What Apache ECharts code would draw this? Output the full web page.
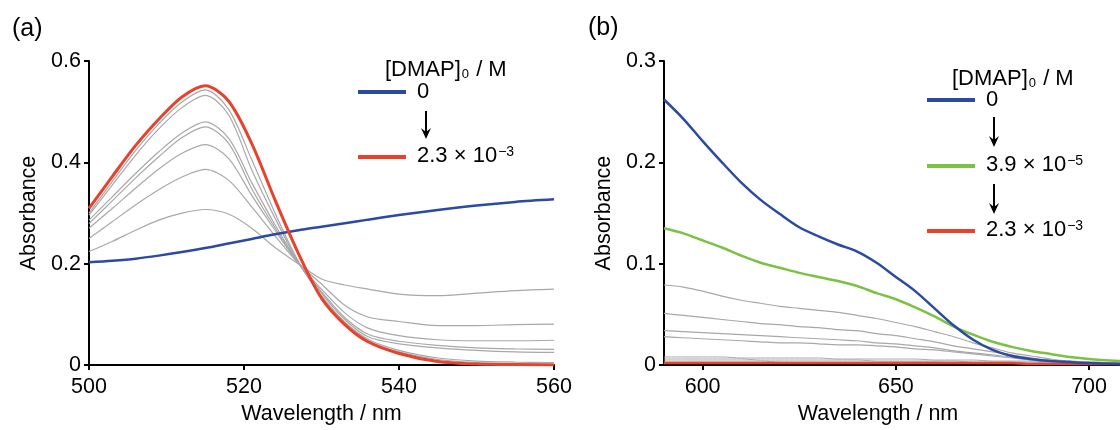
<!DOCTYPE html>
<html><head><meta charset="utf-8">
<script src="https://cdn.jsdelivr.net/npm/echarts@6/dist/echarts.min.js"></script>
<style>html,body{margin:0;padding:0;background:#fff}#c{width:1120px;height:430px}</style>
</head><body><div id="c"></div>
<script>
// ---- Panel (a) data: wavelength (nm) and absorbance ----
const wlA = [500,503,506,509,512,515,518,521,524,527,530,533,536,540,545,550,555,560];
const blueA = [.203,.206,.210,.216,.223,.231,.240,.249,.258,.266,.273,.280,.287,.296,.306,.315,.322,.327];
const redA   = [.309,.372,.433,.485,.529,.551,.521,.437,.326,.221,.132,.080,.046,.023,.007,.002,.001,0];
const grayA1 = [.300,.362,.423,.476,.519,.543,.505,.405,.300,.205,.135,.082,.048,.026,.011,.005,.003,.002];
const grayA2 = [.296,.355,.414,.466,.508,.532,.494,.385,.290,.203,.137,.085,.051,.029,.014,.008,.006,.005];
const grayA3 = [.286,.332,.378,.421,.458,.480,.448,.360,.277,.202,.142,.090,.056,.042,.034,.029,.026,.025];
const grayA4 = [.279,.324,.369,.411,.449,.470,.438,.348,.271,.202,.145,.094,.061,.047,.039,.034,.032,.031];
const grayA5 = [.270,.309,.349,.387,.418,.435,.408,.335,.266,.201,.150,.103,.073,.058,.050,.048,.048,.049];
const grayA6 = [.250,.283,.316,.346,.371,.386,.365,.312,.255,.201,.160,.118,.095,.086,.078,.078,.080,.081];
const grayA7 = [.224,.244,.266,.286,.300,.307,.298,.270,.232,.200,.170,.158,.150,.140,.137,.142,.147,.150];

// ---- Panel (b) data ----
const wlB = [590,595,600,605,610,615,620,625,630,635,640,645,650,655,660,665,670,675,680,685,690,695,700,708];
const blueB  = [.262,.243,.221,.200,.180,.163,.149,.136,.127,.119,.112,.101,.087,.073,.056,.039,.025,.015,.009,.006,.004,.003,.002,.001];
const greenB = [.135,.130,.123,.116,.108,.101,.096,.091,.087,.083,.078,.071,.065,.057,.048,.038,.030,.023,.018,.014,.011,.008,.006,.004];
const grayB1 = [.079,.077,.073,.068,.064,.061,.058,.056,.054,.052,.049,.046,.042,.038,.033,.028,.022,.017,.012,.009,.006,.004,.003,.002];
const grayB2 = [.051,.049,.047,.045,.043,.041,.040,.038,.037,.035,.034,.031,.029,.026,.023,.019,.016,.013,.010,.007,.005,.004,.003,.002];
const grayB3 = [.034,.033,.032,.031,.030,.029,.028,.027,.026,.025,.024,.022,.021,.019,.017,.014,.012,.010,.008,.006,.004,.003,.002,.001];
const grayB4 = [.028,.027,.026,.025,.024,.023,.022,.022,.021,.020,.020,.019,.018,.016,.015,.013,.011,.009,.007,.005,.004,.003,.002,.001];
const grayB5 = [.008,.008,.008,.008,.007,.007,.007,.007,.007,.006,.006,.006,.006,.006,.005,.005,.005,.004,.004,.004,.003,.003,.003,.002];
const grayB6 = [.006,.006,.006,.006,.006,.005,.005,.005,.005,.005,.005,.004,.004,.004,.004,.004,.003,.003,.003,.003,.002,.002,.002,.002];
const grayB7 = [.004,.004,.004,.004,.004,.004,.003,.003,.003,.003,.003,.003,.003,.003,.003,.002,.002,.002,.002,.002,.002,.002,.001,.001];
const redB   = [.002,.002,.002,.002,.002,.002,.002,.002,.002,.002,.002,.002,.002,.002,.002,.002,.002,.002,.002,.001,.001,.001,.001,.001];

const ticksXB = [600,650,700];

const FONT = "'Liberation Sans', Arial, Helvetica, sans-serif";
const GRAY = '#a8a8a8', BLUE = '#2a4aa3', RED = '#e8412c', GREEN = '#7bc244';

function pts(wl, ys){ return wl.map((x,i)=>[x, ys[i]]); }
function line(wl, ys, color, width, idx, z){
  return {type:'line', xAxisIndex:idx, yAxisIndex:idx, data:pts(wl,ys), symbol:'none',
    smooth:0.3, lineStyle:{color:color, width:width}, z:z, silent:true};
}

const axisCommon = {
  axisLine:{show:true, onZero:false, lineStyle:{color:'#000', width:2}},
  axisTick:{show:true, inside:false, length:5, lineStyle:{color:'#000', width:2}},
  splitLine:{show:false},
  nameTextStyle:{fontFamily:FONT, fontSize:21.5, color:'#000'},
};
const labelCommon = {fontFamily:FONT, fontSize:21.5, color:'#000'};

const chart = echarts.init(document.getElementById('c'), null, {renderer:'canvas'});

function legendTitle(x, y){
  return {type:'text', left:x, top:y, style:{text:'[DMAP]{s|0} / M', fill:'#000',
    font:'22px ' + FONT, rich:{s:{fontSize:13, fontFamily:FONT, verticalAlign:'bottom', padding:[0,1,0,1]}}}};
}
function legendLabel(x, y, main, sup){
  const t = sup ? main + '{p|' + sup + '}' : main;
  return {type:'text', left:x, top:y, style:{text:t, fill:'#000', font:'22px ' + FONT,
    rich:{p:{fontSize:14, fontFamily:FONT, verticalAlign:'top', padding:[0,0,0,1]}}}};
}
function legendLine(x1, x2, y, color){
  return {type:'line', shape:{x1:x1, y1:y, x2:x2, y2:y}, style:{stroke:color, lineWidth:4}};
}
function arrow(x, y1, y2){
  return [
    {type:'line', shape:{x1:x, y1:y1, x2:x, y2:y2-6}, style:{stroke:'#000', lineWidth:2}},
    {type:'polygon', shape:{points:[[x-5,y2-11],[x,y2-7],[x+5,y2-11],[x,y2]]}, style:{fill:'#000'}}
  ];
}

const option = {
  animation:false,
  backgroundColor:'#fff',
  grid:[
    {left:89, top:61, width:465, height:308},
    {left:664, top:61, right:0, height:308}
  ],
  xAxis:[
    Object.assign({}, axisCommon, {type:'value', gridIndex:0, min:500, max:560, interval:20,
      name:'Wavelength / nm', nameLocation:'middle', nameGap:29,
      axisLabel:Object.assign({}, labelCommon, {margin:11})}),
    Object.assign({}, axisCommon, {type:'value', gridIndex:1, min:590, max:708,
      name:'Wavelength / nm', nameLocation:'middle', nameGap:29,
      nameTextStyle:{fontFamily:FONT, fontSize:21.5, color:'#000', padding:[0,28,0,0]},
      axisTick:{show:true, inside:false, length:5, lineStyle:{color:'#000', width:2}, customValues:ticksXB},
      axisLabel:Object.assign({}, labelCommon, {margin:11, customValues:ticksXB})})
  ],
  yAxis:[
    Object.assign({}, axisCommon, {type:'value', gridIndex:0, min:0, max:0.6, interval:0.2,
      name:'Absorbance', nameLocation:'middle', nameGap:49,
      axisLabel:Object.assign({}, labelCommon, {margin:8})}),
    Object.assign({}, axisCommon, {type:'value', gridIndex:1, min:0, max:0.3, interval:0.1,
      name:'Absorbance', nameLocation:'middle', nameGap:49,
      axisLabel:Object.assign({}, labelCommon, {margin:8})})
  ],
  series:[
    line(wlA, grayA1, GRAY, 1.2, 0, 2),
    line(wlA, grayA2, GRAY, 1.2, 0, 2),
    line(wlA, grayA3, GRAY, 1.2, 0, 2),
    line(wlA, grayA4, GRAY, 1.2, 0, 2),
    line(wlA, grayA5, GRAY, 1.2, 0, 2),
    line(wlA, grayA6, GRAY, 1.2, 0, 2),
    line(wlA, grayA7, GRAY, 1.2, 0, 2),
    line(wlA, blueA, BLUE, 2.5, 0, 3),
    line(wlA, redA, RED, 3, 0, 4),
    line(wlB, grayB1, GRAY, 1.2, 1, 2),
    line(wlB, grayB2, GRAY, 1.2, 1, 2),
    line(wlB, grayB3, GRAY, 1.2, 1, 2),
    line(wlB, grayB4, GRAY, 1.2, 1, 2),
    line(wlB, grayB5, GRAY, 1, 1, 2),
    line(wlB, grayB6, GRAY, 1, 1, 2),
    line(wlB, grayB7, GRAY, 1, 1, 2),
    line(wlB, redB, RED, 2.5, 1, 3),
    line(wlB, greenB, GREEN, 2.5, 1, 4),
    line(wlB, blueB, BLUE, 2.5, 1, 5)
  ],
  graphic:[
    {type:'text', left:12, top:17, style:{text:'(a)', fill:'#000', font:'25px ' + FONT}},
    {type:'text', left:588, top:16, style:{text:'(b)', fill:'#000', font:'25px ' + FONT}},
    legendTitle(385, 59),
    legendLine(358, 406, 92, BLUE),
    legendLabel(417, 81, '0'),
    ...arrow(426, 111, 139),
    legendLine(358, 406, 157, RED),
    legendLabel(417, 145, '2.3 × 10', '−3'),
    legendTitle(952, 68),
    legendLine(927, 975, 100, BLUE),
    legendLabel(986, 89, '0'),
    ...arrow(994, 117, 147),
    legendLine(927, 975, 166, GREEN),
    legendLabel(986, 154, '3.9 × 10', '−5'),
    ...arrow(994, 184, 214),
    legendLine(927, 975, 231, RED),
    legendLabel(986, 219, '2.3 × 10', '−3')
  ]
};
chart.setOption(option);
</script>
</body></html>
